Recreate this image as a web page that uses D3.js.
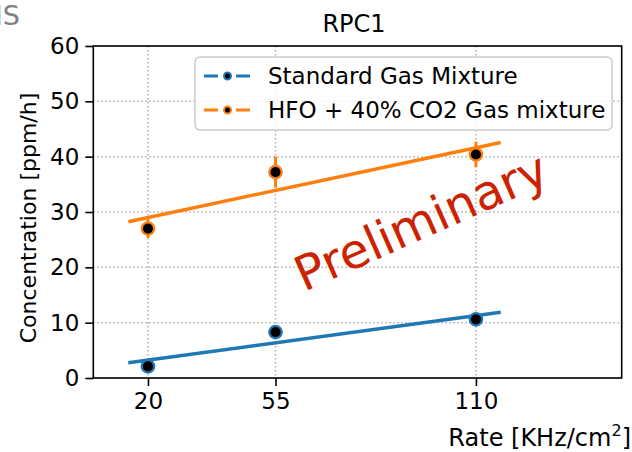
<!DOCTYPE html>
<html>
<head>
<meta charset="utf-8">
<script src="https://cdn.jsdelivr.net/npm/d3@7"></script>
<style>
  html, body { margin: 0; padding: 0; background: #fff; }
  svg { display: block; font-family: "DejaVu Sans", sans-serif; }
</style>
</head>
<body>
<svg id="chart" width="632" height="452"></svg>
<script>
// ---- data ----
const rates = [20, 55, 110];
const xTicks = [20, 55, 110];
const yTicks = [0, 10, 20, 30, 40, 50, 60];
const standardValues = [2.1, 8.3, 10.6];
const standardErrors = [0.8, 0.8, 0.8];
const hfoValues = [27.0, 37.2, 40.4];
const hfoErrors = [1.7, 2.8, 2.3];
const fitX = [14.6, 116.8];
const standardFit = [2.77, 11.87];
const hfoFit = [28.25, 42.55];
const seriesNames = ["Standard Gas Mixture", "HFO + 40% CO2 Gas mixture"];

// ---- layout ----
const W = 632, H = 452;
const L = 93.3, R = 621.7, T = 46, B = 378;
const blue = "#1f77b4", orange = "#ff7f0e";
const FS = 23;

const svg = d3.select("#chart");
const x = d3.scaleLinear().domain([5, 150]).range([L, R]);
const y = d3.scaleLinear().domain([0, 60]).range([B, T]);

// grid
const grid = svg.append("g").attr("stroke", "#b0b0b0").attr("stroke-width", 1.5)
  .attr("stroke-dasharray", "1.5,2.5");
grid.selectAll("line.v").data(xTicks).join("line").attr("class", "v")
  .attr("x1", d => x(d)).attr("x2", d => x(d)).attr("y1", T).attr("y2", B);
grid.selectAll("line.h").data(yTicks).join("line").attr("class", "h")
  .attr("x1", L).attr("x2", R).attr("y1", d => y(d)).attr("y2", d => y(d));

// axes
const xAxis = d3.axisBottom(x).tickValues(xTicks).tickSize(8).tickPadding(7).tickFormat(d3.format("d"));
const yAxis = d3.axisLeft(y).tickValues(yTicks).tickSize(8).tickPadding(6).tickFormat(d3.format("d"));
const gx = svg.append("g").attr("transform", `translate(0,${B})`).call(xAxis);
const gy = svg.append("g").attr("transform", `translate(${L},0)`).call(yAxis);
[gx, gy].forEach(g => {
  g.select(".domain").remove();
  g.selectAll(".tick line").attr("stroke", "#000").attr("stroke-width", 1.6);
  g.selectAll(".tick text").attr("font-size", FS).attr("fill", "#000")
    .attr("font-family", "DejaVu Sans");
});

// spines
svg.append("rect").attr("x", L).attr("y", T).attr("width", R - L).attr("height", B - T)
  .attr("fill", "none").attr("stroke", "#000").attr("stroke-width", 1.6);

// fit lines
const line = d3.line().x(d => x(d[0])).y(d => y(d[1]));
svg.append("path").datum(fitX.map((v, i) => [v, standardFit[i]])).attr("d", line)
  .attr("stroke", blue).attr("stroke-width", 3.5).attr("fill", "none");
svg.append("path").datum(fitX.map((v, i) => [v, hfoFit[i]])).attr("d", line)
  .attr("stroke", orange).attr("stroke-width", 3.5).attr("fill", "none");

// error bars + markers
function drawSeries(vals, errs, color) {
  const g = svg.append("g");
  g.selectAll("line").data(rates).join("line")
    .attr("x1", d => x(d)).attr("x2", d => x(d))
    .attr("y1", (d, i) => y(vals[i] - errs[i])).attr("y2", (d, i) => y(vals[i] + errs[i]))
    .attr("stroke", color).attr("stroke-width", 3);
  g.selectAll("circle").data(rates).join("circle")
    .attr("cx", d => x(d)).attr("cy", (d, i) => y(vals[i])).attr("r", 6.2)
    .attr("fill", "#000").attr("stroke", color).attr("stroke-width", 2.3);
}
drawSeries(standardValues, standardErrors, blue);
drawSeries(hfoValues, hfoErrors, orange);

// Preliminary watermark
svg.append("text").attr("transform", "translate(304,292) rotate(-24)")
  .attr("font-size", 48).attr("fill", "#cc2200").text("Preliminary");

// legend
const lg = svg.append("g");
lg.append("rect").attr("x", 195).attr("y", 57).attr("width", 417).attr("height", 73)
  .attr("rx", 5).attr("fill", "#fff").attr("fill-opacity", 0.8)
  .attr("stroke", "#cccccc").attr("stroke-width", 1.5);
[[seriesNames[0], blue, 76], [seriesNames[1], orange, 110]].forEach(([name, c, yy]) => {
  lg.append("line").attr("x1", 204).attr("x2", 218).attr("y1", yy).attr("y2", yy)
    .attr("stroke", c).attr("stroke-width", 3);
  lg.append("line").attr("x1", 236).attr("x2", 250).attr("y1", yy).attr("y2", yy)
    .attr("stroke", c).attr("stroke-width", 3);
  lg.append("circle").attr("cx", 227.5).attr("cy", yy).attr("r", 3.5)
    .attr("fill", "#000").attr("stroke", c).attr("stroke-width", 2);
  lg.append("text").attr("x", 268).attr("y", yy).attr("dy", "0.36em")
    .attr("font-size", FS).attr("fill", "#000").text(name);
});

// title
svg.append("text").attr("x", 354).attr("y", 32).attr("text-anchor", "middle")
  .attr("font-size", 24).attr("fill", "#000").text("RPC1");

// axis labels
const xl = svg.append("text").attr("x", 631).attr("y", 446).attr("text-anchor", "end")
  .attr("font-size", 24).attr("fill", "#000");
xl.append("tspan").text("Rate [KHz/cm");
xl.append("tspan").attr("font-size", 16).attr("dy", -10).text("2");
xl.append("tspan").attr("dy", 10).text("]");

svg.append("text").attr("transform", `translate(36,218) rotate(-90)`)
  .attr("text-anchor", "middle").attr("font-size", 22).attr("fill", "#000")
  .text("Concentration [ppm/h]");

// cropped corner label
svg.append("text").attr("x", 20).attr("y", 25).attr("text-anchor", "end")
  .attr("font-size", 27).attr("fill", "#808080").text("CMS");
</script>
</body>
</html>
